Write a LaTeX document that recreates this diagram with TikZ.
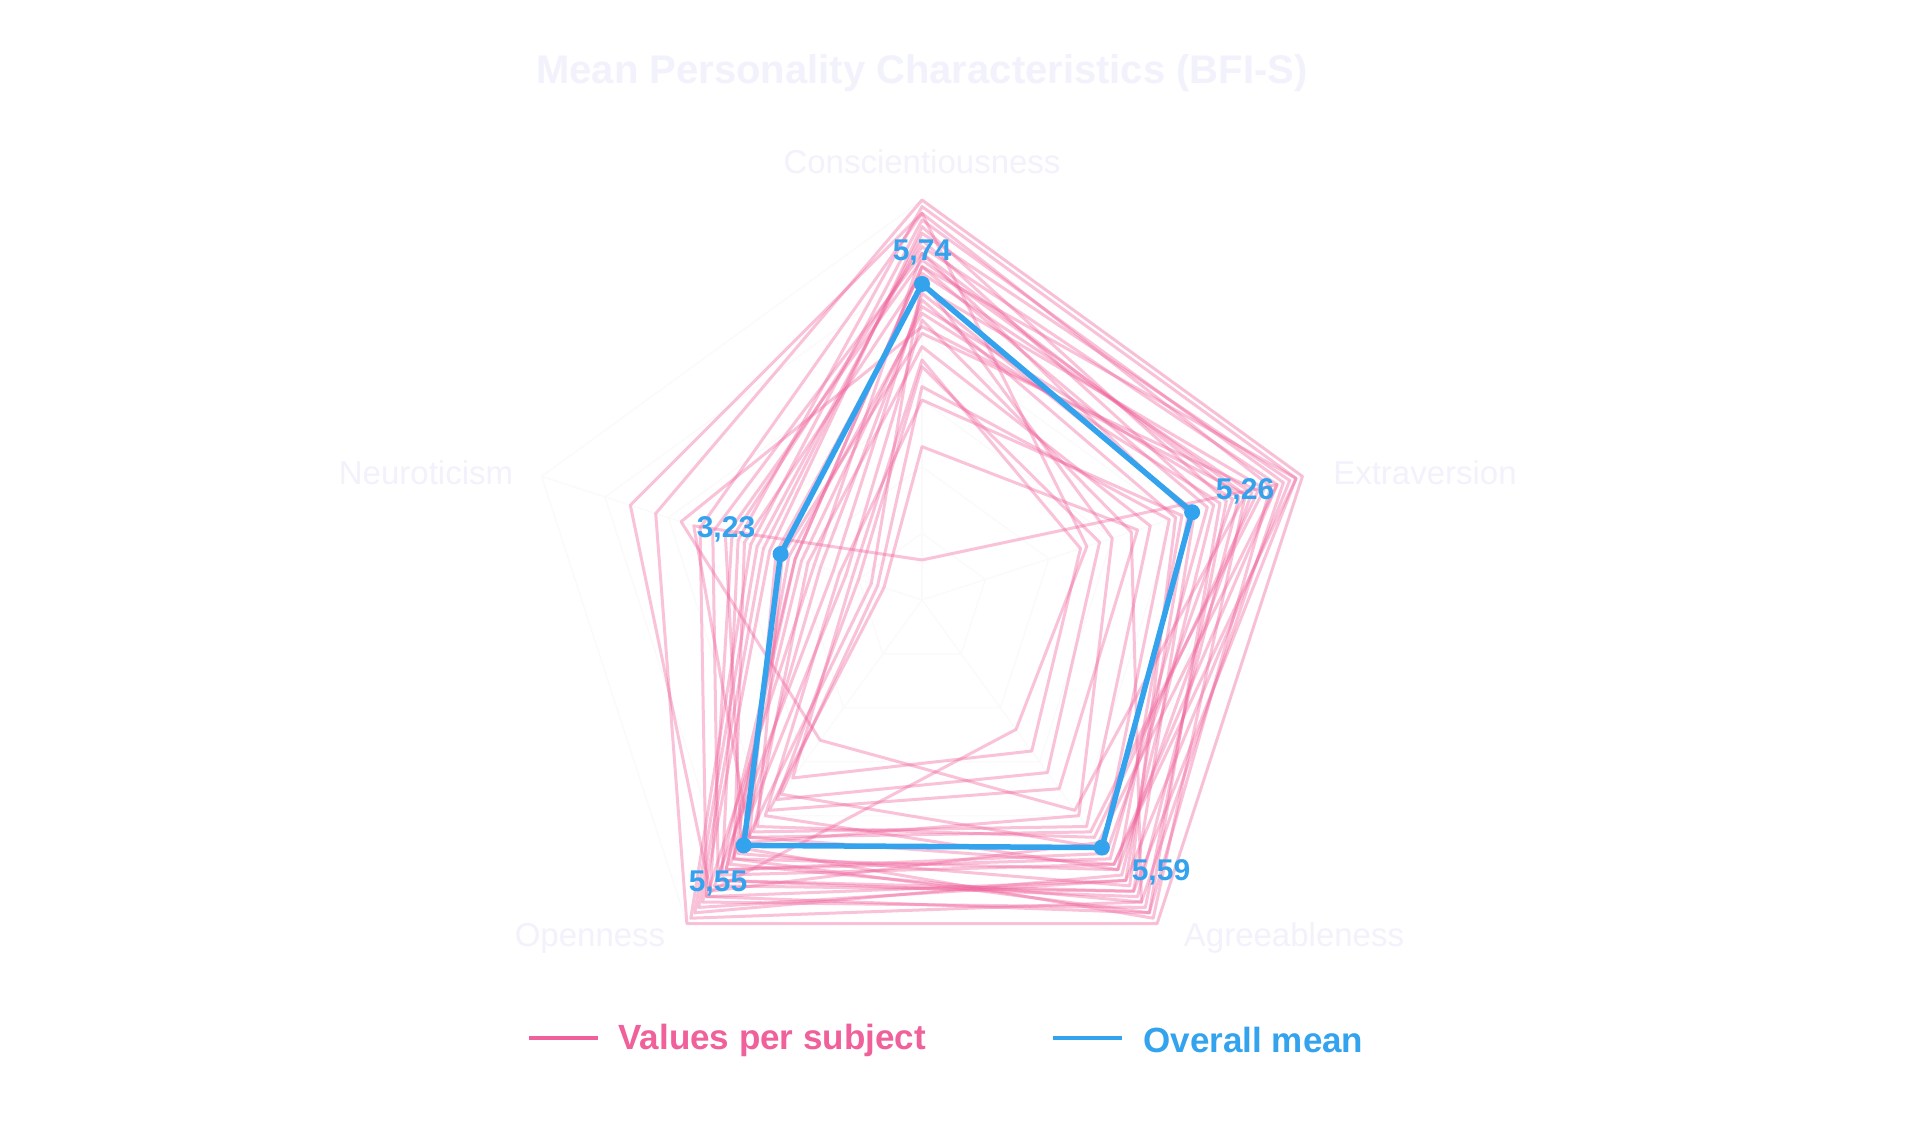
\documentclass[tikz,border=0pt]{standalone}
\usepackage{fontspec}
\setmainfont{Liberation Sans}
\begin{document}
\begin{tikzpicture}[x=1pt,y=1pt,
  subj/.style={draw=pinkc,line width=3pt,draw opacity=0.38,line join=round},
  meanl/.style={draw=bluec,line width=5.5pt,line join=round},
  grid/.style={draw=gray!4,line width=1.2pt},
  axlab/.style={text=labc,font=\fontsize{33}{33}\selectfont},
  vlab/.style={text=bluec,font=\bfseries\fontsize{30}{30}\selectfont}]
\definecolor{pinkc}{HTML}{F0609A}
\definecolor{bluec}{HTML}{33A3EE}
\definecolor{labc}{HTML}{F2F2FC}
\useasboundingbox (0,0) rectangle (1920,1139);
\fill[white] (0,0) rectangle (1920,1139);
\node[text=labc,font=\bfseries\fontsize{40}{40}\selectfont] (title) at (922,1066) {Mean Personality Characteristics (BFI-S)};
\begin{scope}[shift={(922,539)}]
\foreach \v in {2,...,7}
  \draw[grid] (90:{(\v-1)*66.667}) -- (18:{(\v-1)*66.667}) -- (-54:{(\v-1)*66.667}) -- (-126:{(\v-1)*66.667}) -- (162:{(\v-1)*66.667}) -- cycle;
\foreach \a in {90,18,-54,-126,162} \draw[grid] (0,0) -- (\a:400);
\foreach \c/\e/\a/\o/\n in {
 7/7/7/7/5.2, 6.8/6.5/6.8/6.5/4.5, 6.5/6.8/6.2/6.7/3.5, 6.2/6.0/6.5/6.2/4.3,
 5.9/6.2/6.0/5.8/3.8, 6.0/5.5/5.8/6.0/3.0, 5.5/5.0/6.3/5.7/2.6, 6.3/6.6/5.5/6.4/4.0,
 5.2/4.3/6.6/5.9/2.2, 4.8/4.6/5.2/5.3/2.8, 6.6/5.8/6.7/6.6/3.4, 5.8/4.0/5.0/5.5/1.8,
 4.5/3.8/4.2/4.7/2.0, 6.9/6.9/5.9/6.1/3.9, 5.6/5.3/6.4/6.3/2.4, 4.2/4.9/5.6/4.6/1.7,
 6.4/5.6/6.1/6.8/3.6, 5.0/6.3/5.4/5.2/3.2, 6.1/6.1/6.9/5.6/4.1, 3.3/4.4/4.5/4.9/1.6,
 5.4/5.9/5.7/6.0/2.9, 6.7/6.7/6.6/6.9/3.7, 4.0/5.1/6.0/5.0/2.3, 5.7/6.4/5.3/5.4/3.3,
 6.2/5.2/6.2/6.5/2.7, 4.6/3.5/3.8/4.3/2.1, 5.3/5.7/6.8/5.8/3.1, 6.0/6.9/6.4/6.2/3.0,
 1.6/6.6/5.9/5.4/4.6, 6.8/3.6/3.4/6.4/5.6, 5.1/6.1/4.9/3.6/4.8}
 \draw[subj] (90:{(\c-1)*66.667}) -- (18:{(\e-1)*66.667}) -- (-54:{(\a-1)*66.667}) -- (-126:{(\o-1)*66.667}) -- (162:{(\n-1)*66.667}) -- cycle;
\coordinate (mc) at (90:{4.74*66.667});
\coordinate (me) at (18:{4.26*66.667});
\coordinate (ma) at (-54:{4.59*66.667});
\coordinate (mo) at (-126:{4.55*66.667});
\coordinate (mn) at (162:{2.23*66.667});
\draw[meanl] (mc) -- (me) -- (ma) -- (mo) -- (mn) -- cycle;
\foreach \p in {mc,me,ma,mo,mn} \fill[bluec] (\p) circle (8);
\end{scope}
\node[axlab] (lc) at (922,977) {Conscientiousness};
\node[axlab] (le) at (1425,666) {Extraversion};
\node[axlab] (ln) at (426,666) {Neuroticism};
\node[axlab] (lo) at (590,201) {Openness};
\node[axlab] (la) at (1294,201) {Agreeableness};
\node[vlab] at (922,886) {5,74};
\node[vlab] at (1245,648) {5,26};
\node[vlab] at (726,610) {3,23};
\node[vlab] at (718,255) {5,55};
\node[vlab] at (1161,267) {5,59};
\coordinate (l1a) at (529,101); \coordinate (l1b) at (598,101);
\draw[pinkc,line width=4pt] (l1a) -- (l1b);
\node[anchor=west,text=pinkc,font=\bfseries\fontsize{35}{35}\selectfont] (t1) at (615,99) {Values per subject};
\coordinate (l2a) at (1053,101); \coordinate (l2b) at (1122,101);
\draw[bluec,line width=4pt] (l2a) -- (l2b);
\node[anchor=west,text=bluec,font=\bfseries\fontsize{35}{35}\selectfont] (t2) at (1140,99) {Overall mean};
\end{tikzpicture}
\end{document}
